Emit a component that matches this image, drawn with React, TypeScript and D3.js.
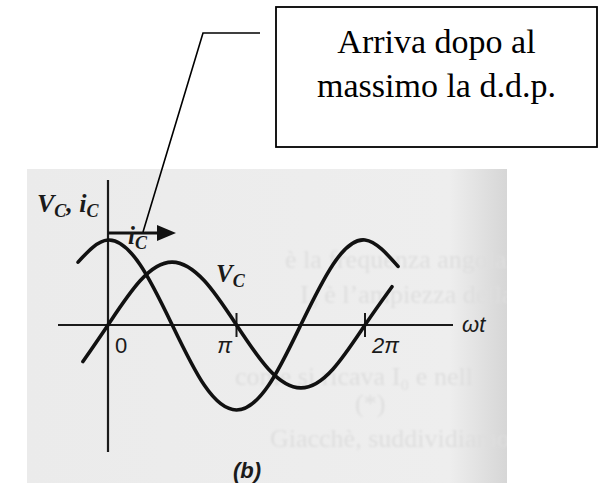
import React from 'react';
import * as d3 from 'd3';

const W = 601;
const H = 483;

// Phase positions are in multiples of π
const tickPhases = [0, 1, 2];
const tickLabels = ['0', 'π', '2π'];

// Capacitor current i_C (leads by a quarter period)
const icPhase = [-0.233, 0, 0.25, 0.5, 0.75, 1, 1.25, 1.5, 1.75, 2, 2.257];
const icValues = [0.74, 1, 0.71, 0, -0.71, -1, -0.71, 0, 0.71, 1, 0.69];

// Capacitor voltage V_C
const vcPhase = [-0.195, 0, 0.25, 0.5, 0.75, 1, 1.25, 1.5, 1.75, 2, 2.21];
const vcValues = [-0.43, 0, 0.52, 0.74, 0.52, 0, -0.52, -0.74, -0.52, 0, 0.45];

const calloutLines = ['Arriva dopo al', 'massimo la d.d.p.'];

// Faded printed text of the scanned page behind the figure
const pageLines = [
  'è la frequenza angolare',
  'I₀ è l\u2019ampiezza della',
  'come si ricava I₀ e nell',
  '(*)',
  'Giacchè, suddividiamo il pr',
];

export default function App() {
  const x = d3.scaleLinear().domain([0, 2]).range([108, 365]);
  const y = d3.scaleLinear().domain([-1, 1]).range([410, 240]);

  const line = d3
    .line<[number, number]>()
    .x((d) => x(d[0]))
    .y((d) => y(d[1]))
    .curve(d3.curveNatural);

  const icPath = line(icPhase.map((p, i) => [p, icValues[i]]) as [number, number][]) || '';
  const vcPath = line(vcPhase.map((p, i) => [p, vcValues[i]]) as [number, number][]) || '';

  const x0 = x(0);
  const y0 = y(0);

  const serif = '"Liberation Serif", "Times New Roman", serif';
  const sans = '"Liberation Sans", Arial, sans-serif';

  const pageRows = [
    { x: 285, y: 268 },
    { x: 300, y: 303 },
    { x: 235, y: 385 },
    { x: 355, y: 412 },
    { x: 270, y: 447 },
  ];

  return (
    <svg
      width={W}
      height={H}
      viewBox={`0 0 ${W} ${H}`}
      style={{ position: 'absolute', left: 0, top: 0, background: '#fff' }}
    >
      <defs>
        <linearGradient id="paper" x1="0" x2="1" y1="0" y2="0">
          <stop offset="0" stopColor="#ebebeb" />
          <stop offset="0.88" stopColor="#eeeeee" />
          <stop offset="1" stopColor="#d6d6d6" />
        </linearGradient>
        <clipPath id="paperClip">
          <rect x={27} y={169} width={480} height={H - 169} />
        </clipPath>
        <filter id="soft" x="-5%" y="-20%" width="110%" height="140%">
          <feGaussianBlur stdDeviation={0.9} />
        </filter>
      </defs>

      {/* scanned page */}
      <rect x={27} y={169} width={480} height={H - 169} fill="url(#paper)" />
      <g clipPath="url(#paperClip)">
        <g fontFamily={serif} fontSize={26} fill="#dedede" filter="url(#soft)">
          {pageLines.map((t, i) => (
            <text key={i} x={pageRows[i].x} y={pageRows[i].y}>
              {t}
            </text>
          ))}
        </g>
      </g>

      {/* axes */}
      <g stroke="#1a1a1a" strokeWidth={2.2} fill="none">
        <line x1={x0} x2={x0} y1={180} y2={452} />
        <line x1={58} x2={453} y1={y0} y2={y0} />
        {tickPhases
          .filter((p) => p > 0)
          .map((p) => (
            <line key={p} x1={x(p)} x2={x(p)} y1={y0 - 12} y2={y0 + 12} strokeWidth={2} />
          ))}
      </g>

      {/* curves */}
      <g stroke="#111" strokeWidth={3.6} fill="none" strokeLinecap="round">
        <path d={icPath} />
        <path d={vcPath} />
      </g>

      {/* tick labels */}
      <g fontFamily={sans} fontSize={22} fill="#1a1a1a">
        {tickPhases.map((p, i) => (
          <text
            key={p}
            x={x(p) + (i === 1 ? -12 : 7)}
            y={y0 + 28}
            textAnchor={i === 1 ? 'middle' : 'start'}
            fontStyle={i === 0 ? 'normal' : 'italic'}
          >
            {tickLabels[i]}
          </text>
        ))}
        <text x={462} y={y0 + 7} fontStyle="italic">
          ωt
        </text>
        <text x={233} y={478} fontStyle="italic" fontWeight="bold">
          (b)
        </text>
      </g>

      {/* axis title */}
      <text x={37} y={212} fontFamily={serif} fontStyle="italic" fontWeight="bold" fontSize={26} fill="#1a1a1a">
        V<tspan fontSize={18} dy={5}>C</tspan>
        <tspan dy={-5}>, i</tspan>
        <tspan fontSize={18} dy={5}>C</tspan>
      </text>

      {/* i_C direction arrow */}
      <line x1={x0} x2={160} y1={233} y2={233} stroke="#111" strokeWidth={3} />
      <path d="M157,225 L176,233 L157,241 Z" fill="#111" />
      <text x={128} y={244} fontFamily={serif} fontStyle="italic" fontWeight="bold" fontSize={25} fill="#1a1a1a">
        i<tspan fontSize={18} dy={5}>C</tspan>
      </text>

      {/* V_C curve label */}
      <text x={216} y={282} fontFamily={serif} fontStyle="italic" fontWeight="bold" fontSize={25} fill="#1a1a1a">
        V<tspan fontSize={18} dy={5}>C</tspan>
      </text>

      {/* callout */}
      <polyline points="260,33 203,33 143,232" fill="none" stroke="#000" strokeWidth={1.6} />
      <rect x={276} y={7} width={321} height={140} fill="#fff" stroke="#000" strokeWidth={1.8} />
      <g fontFamily={serif} fontSize={34} fill="#000" textAnchor="middle">
        {calloutLines.map((t, i) => (
          <text key={i} x={436.5} y={53 + i * 44}>
            {t}
          </text>
        ))}
      </g>
    </svg>
  );
}
